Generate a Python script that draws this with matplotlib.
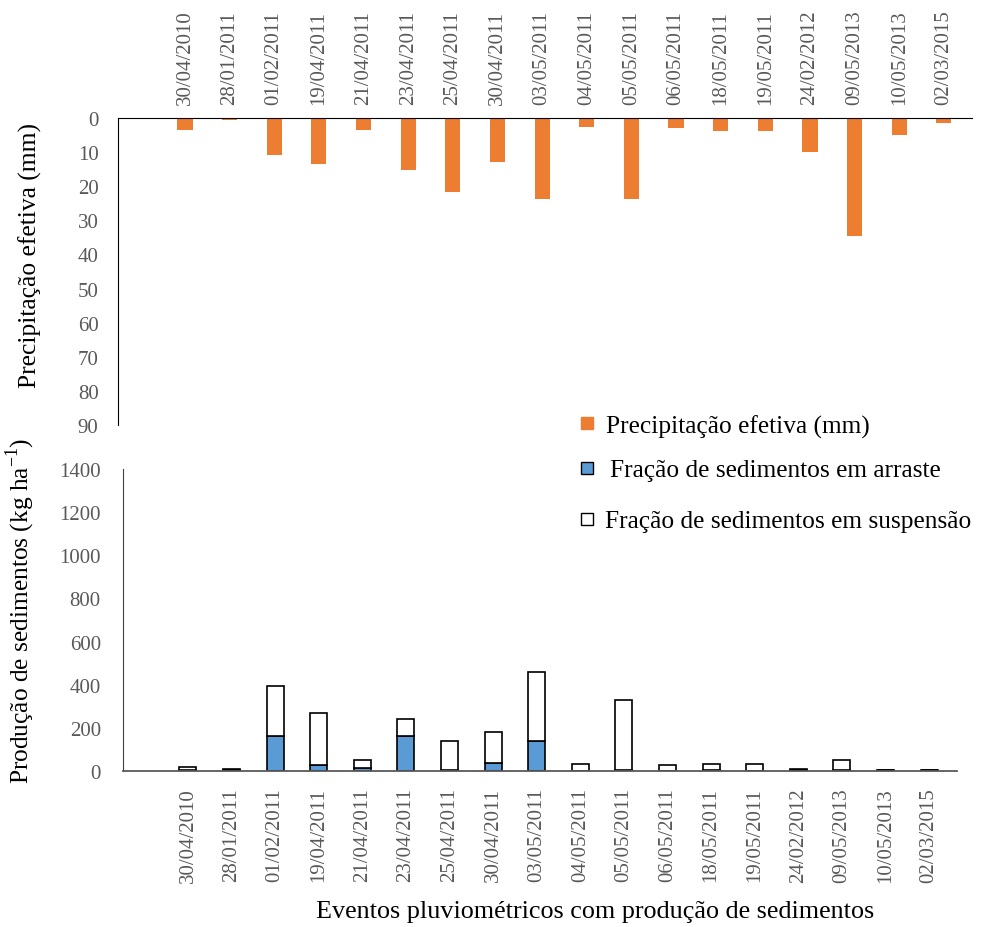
import matplotlib
matplotlib.use('Agg')
import matplotlib.pyplot as plt
from matplotlib.lines import Line2D
import numpy as np

# Dados do grafico
datas = ['30/04/2010', '28/01/2011', '01/02/2011', '19/04/2011', '21/04/2011',
         '23/04/2011', '25/04/2011', '30/04/2011', '03/05/2011', '04/05/2011',
         '05/05/2011', '06/05/2011', '18/05/2011', '19/05/2011', '24/02/2012',
         '09/05/2013', '10/05/2013', '02/03/2015']
precipitacao = [3.4, 0.6, 10.8, 13.6, 3.4, 15.2, 21.8, 12.8, 23.8, 2.6,
                23.8, 3.0, 3.9, 3.9, 10.0, 34.6, 5.0, 1.5]
arraste = [3, 4, 160, 26, 14, 160, 3, 39, 140, 1, 3, 1, 4, 1, 4, 3, 4, 4]
suspensao = [17, 3, 236, 243, 37, 83, 138, 141, 319, 31, 324, 25, 28, 31, 3, 48, 2, 2]

laranja = '#ED7D31'
azul = '#5B9BD5'
cinza = '#595959'

plt.rcParams['font.family'] = ['Liberation Serif', 'DejaVu Serif']
plt.rcParams['mathtext.fontset'] = 'custom'
plt.rcParams['mathtext.rm'] = 'Liberation Serif'

fig = plt.figure(figsize=(9.87, 9.28), dpi=100)
x = np.arange(len(datas))

# Painel superior: precipitacao (eixo invertido)
ax1 = fig.add_axes([118 / 987, 1 - 426 / 928, (972 - 118) / 987, (426 - 119) / 928])
ax1.bar(x, precipitacao, width=0.34, color=laranja)
ax1.set_ylim(90, 0)
ax1.set_xlim(-1.5, 17.63)
ax1.set_yticks(range(0, 91, 10))
ax1.xaxis.tick_top()
ax1.set_xticks(x)
ax1.set_xticklabels(datas, rotation=90)
ax1.tick_params(axis='both', length=0, colors=cinza, labelsize=15)
ax1.tick_params(axis='x', pad=10)
ax1.tick_params(axis='y', pad=14)
for s in ['right', 'bottom']:
    ax1.spines[s].set_visible(False)
ax1.spines['left'].set_color('black')
ax1.spines['top'].set_color('black')
ax1.set_ylabel('Precipitação efetiva (mm)', fontsize=18.4)
ax1.yaxis.set_label_coords(-0.089, 0.555)

# Painel inferior: producao de sedimentos
ax2 = fig.add_axes([123 / 987, 1 - 772 / 928, (957 - 123) / 987, (772 - 470) / 928])
ax2.bar(x, arraste, width=0.39, color=azul, edgecolor='black', linewidth=1.2)
ax2.bar(x, suspensao, width=0.39, bottom=arraste, color='white',
        edgecolor='black', linewidth=1.2)
ax2.set_ylim(0, 1400)
ax2.set_xlim(-1.49, 17.64)
ax2.set_yticks(range(0, 1401, 200))
ax2.set_xticks(x)
ax2.set_xticklabels(datas, rotation=90)
ax2.tick_params(axis='both', length=0, colors=cinza, labelsize=15)
ax2.tick_params(axis='x', pad=11.5)
ax2.tick_params(axis='y', pad=16)
for s in ['right', 'top']:
    ax2.spines[s].set_visible(False)
ax2.spines['left'].set_color('#404040')
ax2.spines['bottom'].set_color(cinza)
ax2.spines['bottom'].set_linewidth(1.3)
ax2.set_ylabel('Produção de sedimentos (kg ha$^{-1}$)', fontsize=18.3)
ax2.yaxis.set_label_coords(-0.103, 0.533)

fig.text(595 / 987, 1 - 912 / 928, 'Eventos pluviométricos com produção de sedimentos',
         fontsize=18.8, ha='center', va='center')

# Legenda (uma entrada por linha, como no original)
entradas = [
    ('Precipitação efetiva (mm)', laranja, laranja, 427, 0.35),
    ('Fração de sedimentos em arraste', azul, 'black', 471, 0.51),
    ('Fração de sedimentos em suspensão', 'white', 'black', 522, 0.31),
]
for rotulo, cor, borda, ypix, pad in entradas:
    h = Line2D([], [], marker='s', linestyle='none', markersize=8,
               markerfacecolor=cor, markeredgecolor=borda)
    fig.legend([h], [rotulo], loc='center left',
               bbox_to_anchor=(577 / 987, 1 - ypix / 928),
               frameon=False, fontsize=18.3, handletextpad=pad,
               handlelength=0.8, borderaxespad=0, borderpad=0)

plt.savefig('out.png', dpi=100)
